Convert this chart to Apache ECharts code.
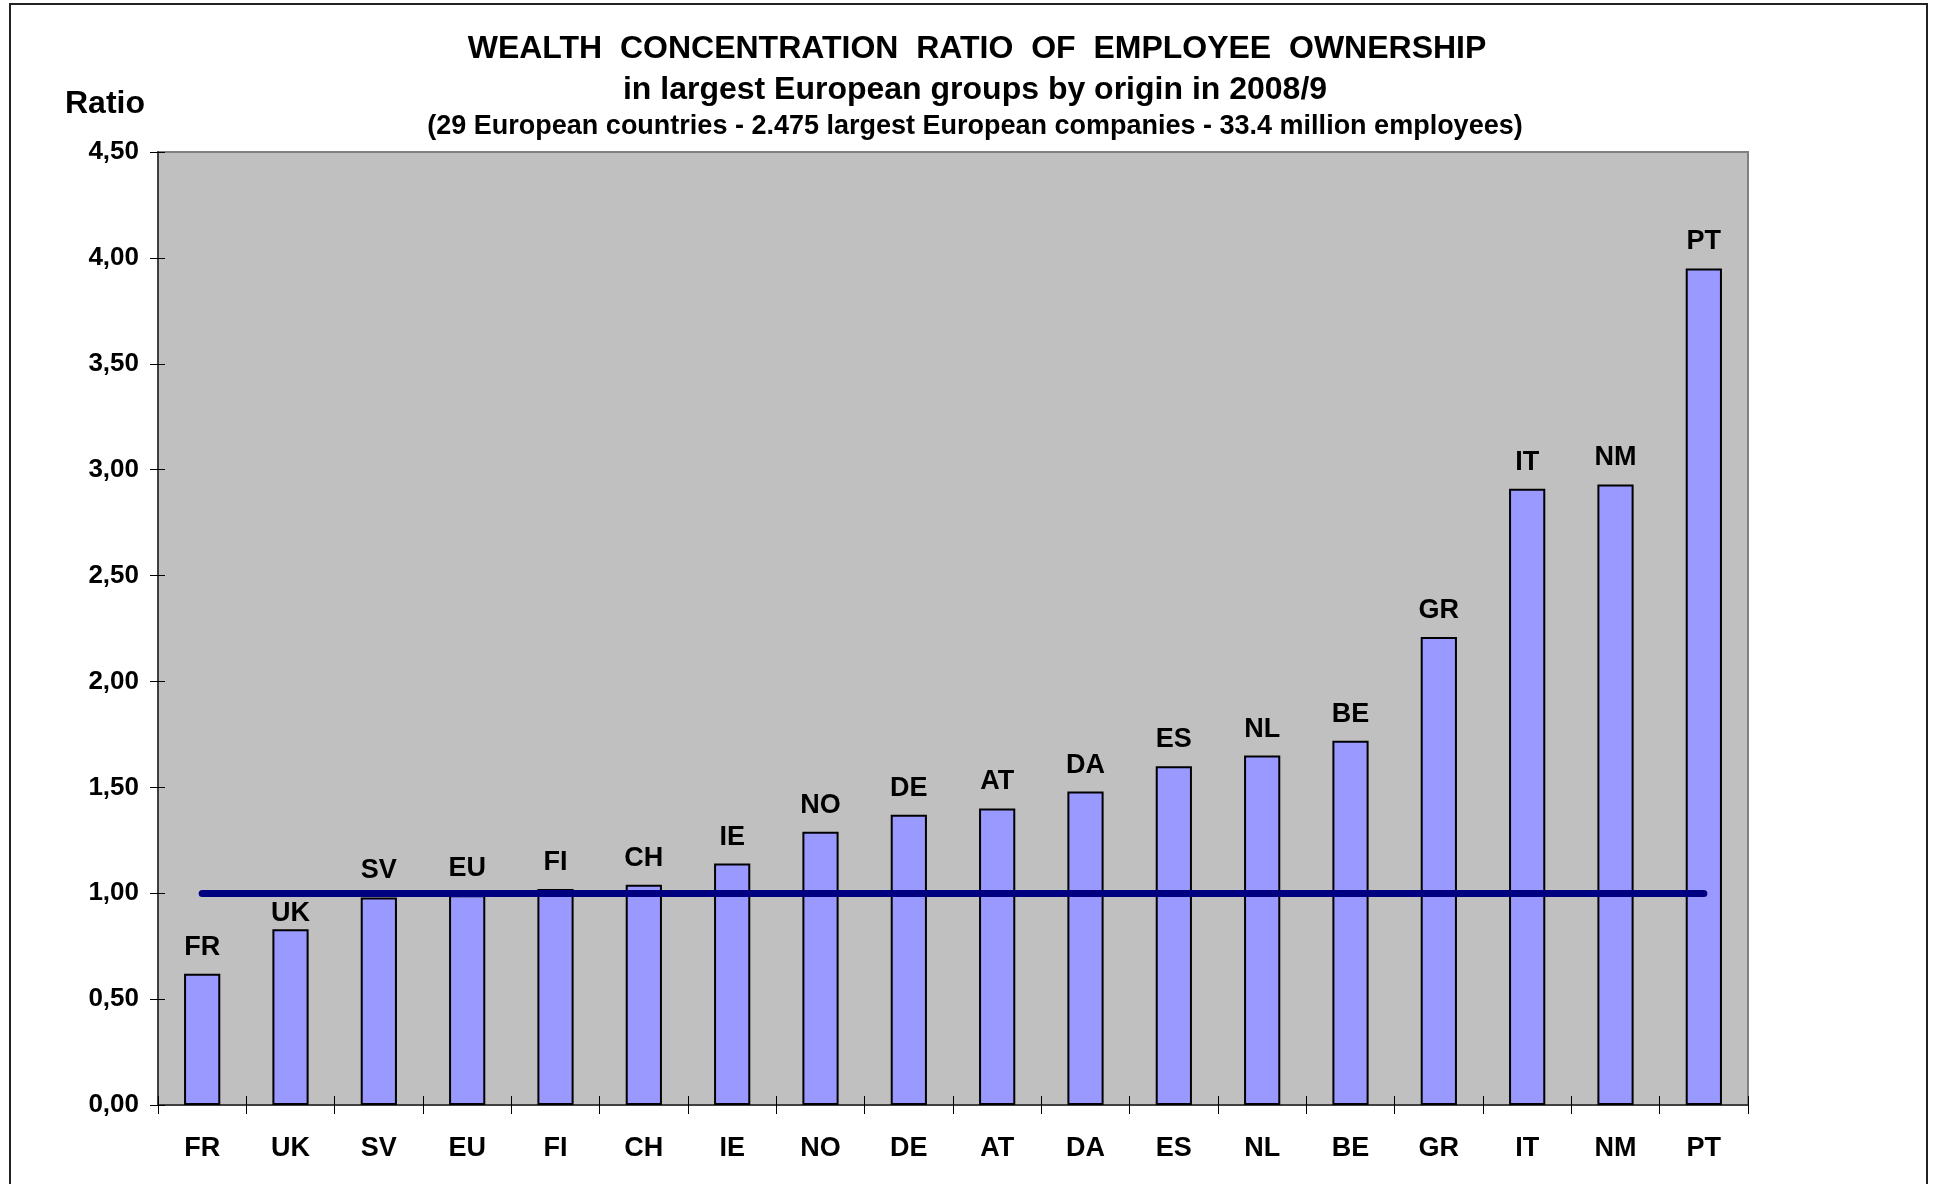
<!DOCTYPE html>
<html>
<head>
<meta charset="utf-8">
<script src="https://cdn.jsdelivr.net/npm/echarts@6/dist/echarts.min.js"></script>
<style>
  html, body { margin: 0; padding: 0; background: #fff; }
  #main { width: 1934px; height: 1184px; }
</style>
</head>
<body>
<div id="main"></div>
<script>
// wealth concentration ratio
var countries = ['FR', 'UK', 'SV', 'EU', 'FI', 'CH', 'IE', 'NO', 'DE', 'AT', 'DA', 'ES', 'NL', 'BE', 'GR', 'IT', 'NM', 'PT'];
var ratio = [0.62, 0.83, 0.98, 0.99, 1.02, 1.04, 1.14, 1.29, 1.37, 1.40, 1.48, 1.60, 1.65, 1.72, 2.21, 2.91, 2.93, 3.95];
var refRatio = 1.0;
var yTicks = { min: 0, max: 4.5, interval: 0.5 };

var font = "'Liberation Sans', Arial, sans-serif";
var mycharts = echarts.init(document.getElementById('main'));

var grid = { left: 158, right: 186, top: 152, bottom: 79 };

// UK label sits lower so it stays under the 1.00 line
var barData = ratio.map(function(v, i) {
  if (countries[i] === 'UK') return { value: v, label: { distance: 2 } };
  return v;
});

var option = {
  backgroundColor: '#ffffff',
  animation: false,
  title: [
    {
      text: 'WEALTH  CONCENTRATION  RATIO  OF  EMPLOYEE  OWNERSHIP',
      left: 972, top: 44, textAlign: 'center', textVerticalAlign: 'middle',
      textStyle: { fontFamily: font, fontWeight: 'bold', fontSize: 32, color: '#000' }
    },
    {
      text: 'in largest European groups by origin in 2008/9',
      left: 970, top: 85, textAlign: 'center', textVerticalAlign: 'middle',
      textStyle: { fontFamily: font, fontWeight: 'bold', fontSize: 32, color: '#000' }
    },
    {
      text: '(29 European countries - 2.475 largest European companies - 33.4 million employees)',
      left: 970, top: 122, textAlign: 'center', textVerticalAlign: 'middle',
      textStyle: { fontFamily: font, fontWeight: 'bold', fontSize: 27, color: '#000' }
    },
    {
      text: 'Ratio',
      left: 60, top: 99, textVerticalAlign: 'middle',
      textStyle: { fontFamily: font, fontWeight: 'bold', fontSize: 32, color: '#000' }
    }
  ],
  graphic: [
    {
      // outer frame
      type: 'rect',
      shape: { x: 10, y: 4, width: 1917, height: 1200 },
      style: { fill: 'none', stroke: '#222', lineWidth: 2 },
      silent: true
    }
  ],
  grid: Object.assign({ show: true, backgroundColor: '#c0c0c0', borderColor: '#808080', borderWidth: 2 }, grid),
  xAxis: [
    {
      type: 'category',
      data: countries,
      axisLine: { lineStyle: { color: '#404040', width: 2 } },
      axisTick: { show: true, length: 9, lineStyle: { color: '#000', width: 1 } },
      axisLabel: { margin: 30, fontFamily: font, fontWeight: 'bold', fontSize: 27, color: '#000' },
      splitLine: { show: false }
    },
    {
      // inner half of the crossing ticks
      type: 'category',
      data: countries,
      position: 'bottom',
      axisLine: { show: false },
      axisTick: { show: true, inside: true, length: 9, lineStyle: { color: '#000', width: 1 } },
      axisLabel: { show: false },
      splitLine: { show: false }
    }
  ],
  yAxis: [
    {
      type: 'value',
      min: yTicks.min,
      max: yTicks.max,
      interval: yTicks.interval,
      axisLine: { show: true, lineStyle: { color: '#404040', width: 2 } },
      axisTick: { show: true, length: 8, lineStyle: { color: '#000', width: 1 } },
      axisLabel: {
        margin: 19,
        fontFamily: font, fontWeight: 'bold', fontSize: 26, color: '#000',
        formatter: function(v) { return v.toFixed(2).replace('.', ','); }
      },
      splitLine: { show: false }
    },
    {
      type: 'value',
      position: 'left',
      min: yTicks.min,
      max: yTicks.max,
      interval: yTicks.interval,
      axisLine: { show: false },
      axisTick: { show: true, inside: true, length: 7, lineStyle: { color: '#000', width: 1 } },
      axisLabel: { show: false },
      splitLine: { show: false }
    }
  ],
  series: [
    {
      type: 'bar',
      data: barData,
      barWidth: '41%',
      itemStyle: { color: '#9999ff', borderColor: '#000', borderWidth: 2 },
      label: {
        show: true,
        position: 'top',
        distance: 13,
        formatter: '{b}',
        fontFamily: font, fontWeight: 'bold', fontSize: 27, color: '#000'
      },
      markLine: {
        silent: true,
        symbol: 'none',
        label: { show: false },
        lineStyle: { color: '#000080', width: 7, type: 'solid', cap: 'round' },
        data: [[
          { coord: [countries[0], refRatio] },
          { coord: [countries[countries.length - 1], refRatio] }
        ]]
      }
    }
  ]
};

mycharts.setOption(option);
</script>
</body>
</html>
